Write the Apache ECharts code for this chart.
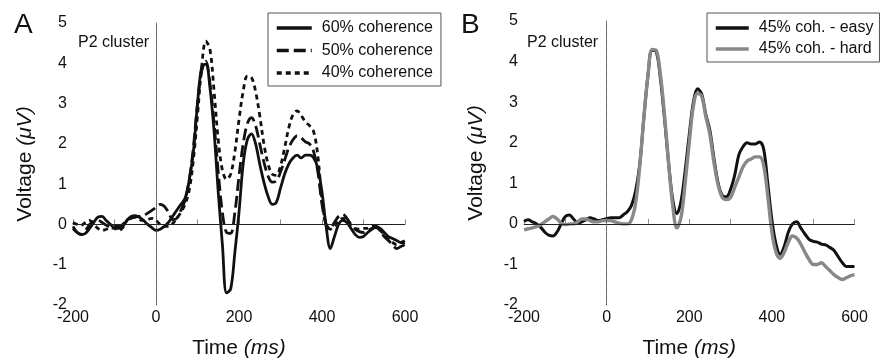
<!DOCTYPE html>
<html>
<head>
<meta charset="utf-8">
<script src="https://cdn.jsdelivr.net/npm/echarts@6/dist/echarts.min.js"></script>
<style>html,body{margin:0;padding:0;background:#fff}#c{width:885px;height:364px}</style>
</head>
<body>
<div id="c"></div>
<script>
// Time samples (ms)
var times = [-200,-190,-180,-170,-160,-150,-140,-130,-120,-110,-100,-90,-80,-70,-60,-50,-40,-30,-20,-10,
  0,10,20,30,40,50,60,70,80,90,100,110,120,130,140,150,160,170,180,190,
  200,210,220,230,240,250,260,270,280,290,300,310,320,330,340,350,360,370,380,390,
  400,410,420,430,440,450,460,470,480,490,500,510,520,530,540,550,560,570,580,590,600];

// Panel A: P2 cluster by coherence (µV)
var coh60 = [-0.05,-0.2,-0.25,-0.22,-0.1,0.05,0.18,0.2,0.1,0.0,-0.08,-0.1,-0.05,0.1,0.2,0.22,0.18,0.1,0.0,-0.08,
  -0.15,-0.12,-0.05,0.05,0.2,0.35,0.5,0.65,1.1,1.8,3.0,3.9,3.98,3.4,2.3,0.8,-0.5,-1.7,-1.6,-0.7,
  0.3,1.5,2.1,2.25,2.0,1.5,1.05,0.7,0.5,0.55,0.9,1.25,1.5,1.65,1.72,1.65,1.72,1.72,1.65,1.4,
  0.8,-0.05,-0.6,-0.3,0.0,0.1,0.05,-0.1,-0.25,-0.32,-0.3,-0.2,-0.12,-0.05,-0.1,-0.2,-0.3,-0.35,-0.4,-0.45,-0.45];
var coh50 = [-0.1,-0.2,-0.25,-0.15,0.0,0.08,0.1,0.05,-0.02,-0.05,-0.05,-0.05,0.0,0.1,0.15,0.18,0.2,0.22,0.28,0.35,
  0.42,0.5,0.45,0.3,0.12,0.15,0.35,0.6,1.1,1.9,3.0,3.8,4.05,3.5,2.5,1.3,0.3,-0.2,-0.22,0.3,
  1.2,2.0,2.5,2.65,2.45,2.0,1.55,1.2,1.05,1.08,1.3,1.6,1.9,2.1,2.2,2.15,2.05,2.0,1.8,1.3,
  0.5,0.0,-0.1,0.05,0.2,0.25,0.15,0.0,-0.12,-0.18,-0.2,-0.15,-0.1,-0.08,-0.15,-0.3,-0.4,-0.5,-0.6,-0.55,-0.5];
var coh40 = [0.05,0.0,-0.02,0.05,0.1,0.0,-0.1,-0.15,-0.12,-0.08,-0.1,-0.15,-0.08,0.1,0.2,0.18,0.12,0.1,0.12,0.15,
  0.1,0.0,-0.05,-0.05,0.02,0.15,0.3,0.5,0.85,1.6,2.7,3.9,4.55,4.35,3.3,2.1,1.35,1.12,1.25,1.8,
  2.6,3.3,3.68,3.65,3.3,2.7,2.0,1.5,1.25,1.22,1.45,1.9,2.4,2.72,2.82,2.7,2.55,2.45,2.3,1.7,
  0.6,0.0,-0.12,-0.05,0.08,0.15,0.1,-0.05,-0.1,-0.12,-0.1,-0.1,-0.05,-0.05,-0.15,-0.25,-0.38,-0.45,-0.5,-0.45,-0.4];

// Panel B: 45% coherence, easy vs hard (µV)
var easy = [0.06,0.1,0.05,0.0,-0.08,-0.2,-0.28,-0.3,-0.2,0.0,0.18,0.22,0.12,0.02,0.05,0.1,0.15,0.12,0.08,0.1,
  0.13,0.15,0.15,0.15,0.22,0.3,0.45,0.8,1.45,2.6,3.65,4.28,4.25,3.6,2.6,1.5,0.6,0.25,0.55,1.3,
  2.2,3.0,3.33,3.2,2.7,2.3,1.6,1.0,0.7,0.67,0.85,1.2,1.7,1.9,2.0,1.97,1.97,2.02,1.85,1.0,
  0.1,-0.5,-0.75,-0.55,-0.2,0.0,0.05,-0.1,-0.25,-0.38,-0.43,-0.45,-0.5,-0.52,-0.58,-0.65,-0.8,-0.95,-1.05,-1.05,-1.05];
var hard = [-0.15,-0.12,-0.1,-0.07,-0.02,0.05,0.12,0.18,0.12,0.02,-0.02,0.0,0.0,0.05,0.12,0.12,0.08,0.05,0.05,0.08,
  0.08,0.08,0.05,0.02,0.0,0.0,0.1,0.5,1.4,2.6,3.65,4.3,4.28,3.7,2.7,1.5,0.45,-0.1,0.15,1.0,
  2.0,2.9,3.22,3.15,2.65,2.2,1.5,0.95,0.65,0.6,0.65,0.9,1.15,1.4,1.55,1.6,1.65,1.65,1.45,0.7,
  -0.2,-0.7,-0.85,-0.7,-0.45,-0.3,-0.35,-0.5,-0.7,-0.88,-1.0,-1.0,-0.96,-1.05,-1.15,-1.25,-1.32,-1.37,-1.33,-1.28,-1.25];

var xTicks = [-200, 0, 200, 400, 600];
var yTicks = [-2, -1, 0, 1, 2, 3, 4, 5];
var namesA = ['60% coherence', '50% coherence', '40% coherence'];
var namesB = ['45% coh. - easy', '45% coh. - hard'];

function pairs(v) { return times.map(function (t, i) { return [t, v[i]]; }); }

var FONT = '"Liberation Sans", Arial, sans-serif';
var AX = '#8c8c8c';

function xAxisDef(gi) {
  return {
    type: 'value', gridIndex: gi, min: xTicks[0], max: xTicks[xTicks.length - 1], interval: 100,
    axisLine: { lineStyle: { color: AX, width: 1 } },
    axisTick: { inside: true, length: 5, lineStyle: { color: AX } },
    splitLine: { show: false },
    axisLabel: {
      margin: 5, color: '#111', fontSize: 16, fontFamily: FONT,
      formatter: function (v) { return xTicks.indexOf(v) >= 0 ? String(v) : ''; }
    },
    name: 'Time {i|(ms)}', nameLocation: 'middle', nameGap: 33,
    nameTextStyle: { color: '#111', fontSize: 21, fontFamily: FONT,
      rich: { i: { fontStyle: 'italic', fontSize: 21, fontFamily: FONT, color: '#111' } } }
  };
}
function yAxisDef(gi) {
  return {
    type: 'value', gridIndex: gi, min: yTicks[0], max: yTicks[yTicks.length - 1], interval: 1,
    axisLine: { lineStyle: { color: AX, width: 1 } },
    axisTick: { show: false },
    splitLine: { show: false },
    axisLabel: { margin: 6, color: '#111', fontSize: 16, fontFamily: FONT },
    name: 'Voltage {i|(μV)}', nameLocation: 'middle', nameGap: 37, nameRotate: 90,
    nameTextStyle: { color: '#111', fontSize: 21, fontFamily: FONT,
      rich: { i: { fontStyle: 'italic', fontSize: 21, fontFamily: FONT, color: '#111' } } }
  };
}
function refLines() {
  return {
    silent: true, symbol: ['none', 'none'], label: { show: false },
    emphasis: { disabled: true },
    data: [
      { yAxis: 0, lineStyle: { type: 'solid', color: '#222', width: 1 } },
      { xAxis: 0, lineStyle: { type: 'dotted', color: '#555', width: 1 } }
    ]
  };
}
function legendDef(names, left, padding, gap, w) {
  return {
    data: names, orient: 'vertical', left: left, top: 13,
    padding: padding, itemGap: gap, itemWidth: w, itemHeight: 16,
    borderColor: '#555', borderWidth: 1, selectedMode: false,
    itemStyle: { opacity: 0 },
    lineStyle: { width: 3.5 },
    textStyle: { fontSize: 16, fontFamily: FONT, color: '#111', lineHeight: 16, padding: [0, 0, 0, 5] }
  };
}

var chart = echarts.init(document.getElementById('c'), null, { renderer: 'canvas' });
chart.setOption({
  animation: false,
  backgroundColor: '#fff',
  grid: [
    { left: 73, right: 480, top: 23, bottom: 57 },
    { left: 524, right: 30.5, top: 21, bottom: 58.5 }
  ],
  xAxis: [xAxisDef(0), xAxisDef(1)],
  yAxis: [yAxisDef(0), yAxisDef(1)],
  legend: [
    legendDef(namesA, 268, [7, 8, 5, 7], 6.5, 35),
    legendDef(namesB, 707, [7, 6, 5, 7], 5, 33)
  ],
  graphic: [
    { type: 'text', left: 14, top: 11, style: { text: 'A', fontSize: 28, fontFamily: FONT, fill: '#111' } },
    { type: 'text', left: 461, top: 11, style: { text: 'B', fontSize: 28, fontFamily: FONT, fill: '#111' } },
    { type: 'text', left: 78, top: 35, style: { text: 'P2 cluster', fontSize: 16, fontFamily: FONT, fill: '#111' } },
    { type: 'text', left: 527, top: 35, style: { text: 'P2 cluster', fontSize: 16, fontFamily: FONT, fill: '#111' } }
  ],
  series: [
    { name: namesA[0], type: 'line', xAxisIndex: 0, yAxisIndex: 0, data: pairs(coh60), symbol: 'none', showSymbol: false, smooth: 0.35,
      lineStyle: { color: '#111', width: 2.8, type: 'solid' }, itemStyle: { color: '#111' }, markLine: refLines(), z: 3 },
    { name: namesA[1], type: 'line', xAxisIndex: 0, yAxisIndex: 0, data: pairs(coh50), symbol: 'none', showSymbol: false, smooth: 0.35,
      lineStyle: { color: '#111', width: 2.8, type: [12, 5] }, itemStyle: { color: '#111' }, z: 3 },
    { name: namesA[2], type: 'line', xAxisIndex: 0, yAxisIndex: 0, data: pairs(coh40), symbol: 'none', showSymbol: false, smooth: 0.35,
      lineStyle: { color: '#111', width: 2.8, type: [5, 4] }, itemStyle: { color: '#111' }, z: 3 },
    { name: namesB[0], type: 'line', xAxisIndex: 1, yAxisIndex: 1, data: pairs(easy), symbol: 'none', showSymbol: false, smooth: 0.35,
      lineStyle: { color: '#111', width: 3, type: 'solid' }, itemStyle: { color: '#111' }, markLine: refLines(), z: 3 },
    { name: namesB[1], type: 'line', xAxisIndex: 1, yAxisIndex: 1, data: pairs(hard), symbol: 'none', showSymbol: false, smooth: 0.35,
      lineStyle: { color: '#888', width: 3.4, type: 'solid' }, itemStyle: { color: '#888' }, z: 3 }
  ]
});
</script>
</body>
</html>
